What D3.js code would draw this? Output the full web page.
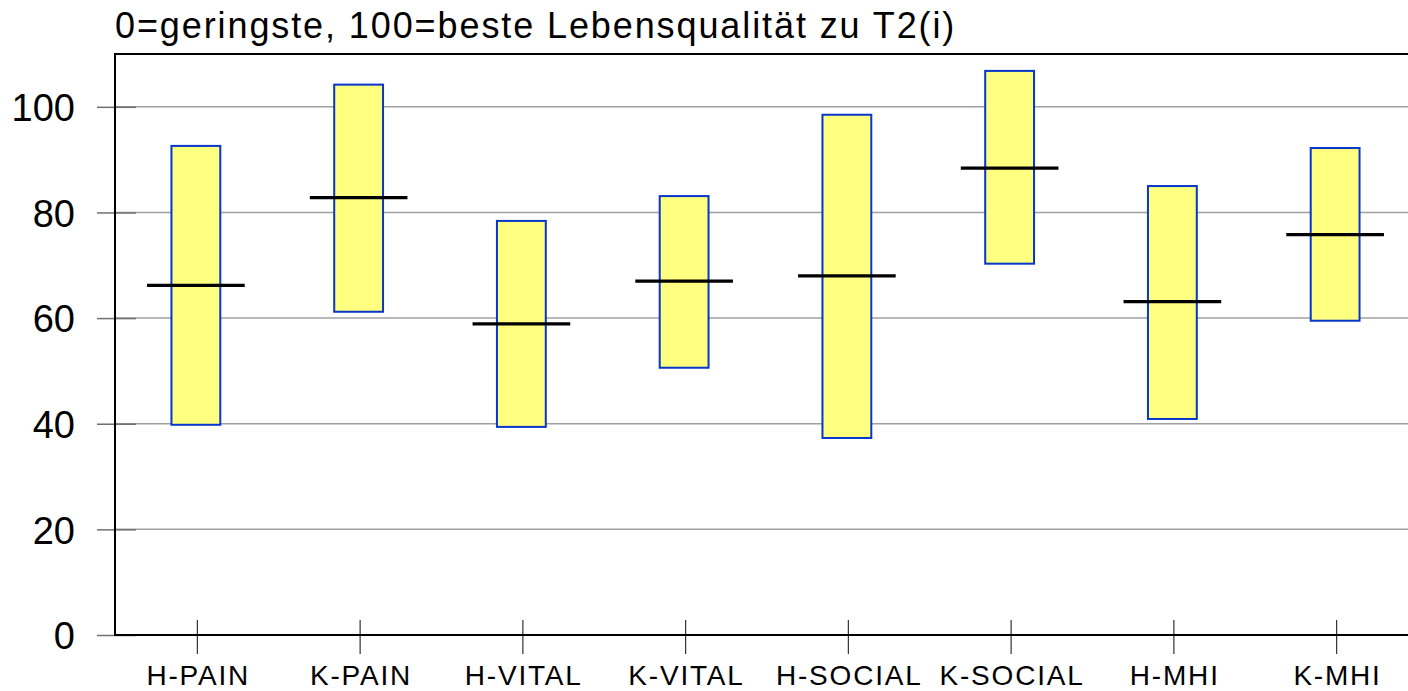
<!DOCTYPE html>
<html>
<head>
<meta charset="utf-8">
<script src="https://cdn.jsdelivr.net/npm/d3@7"></script>
<style>
  body { margin: 0; background: #fff; }
  svg text { font-family: "Liberation Sans", Arial, sans-serif; fill: #000; }
</style>
</head>
<body>
<div id="chart"></div>
<script>
// data
const categories = ['H-PAIN', 'K-PAIN', 'H-VITAL', 'K-VITAL', 'H-SOCIAL', 'K-SOCIAL', 'H-MHI', 'K-MHI'];
const lowValues  = [39.8, 61.2, 39.4, 50.6, 37.3, 70.3, 40.9, 59.5];
const highValues = [92.6, 104.2, 78.4, 83.1, 98.5, 106.8, 85.0, 92.2];
const meanValues = [66.2, 82.8, 58.9, 67.0, 68.0, 88.4, 63.1, 75.8];
const yTicks = [0, 20, 40, 60, 80, 100];
const titleText = '0=geringste, 100=beste Lebensqualität zu T2(i)';

const svgW = 1408, svgH = 691;
const plotLeft = 115, plotTop = 54, plotBottom = 635, plotRight = 1418;

const data = categories.map((c, i) => ({ cat: c, low: lowValues[i], high: highValues[i], mean: meanValues[i] }));

const svg = d3.select('#chart').append('svg')
  .attr('width', svgW)
  .attr('height', svgH);

const x = d3.scaleBand().domain(categories).range([plotLeft + 1, plotRight]).padding(0);
const y = d3.scaleLinear().domain([0, 110]).range([plotBottom, plotTop]);

// grid lines
svg.append('g')
  .attr('class', 'grid')
  .selectAll('line')
  .data(yTicks.filter(d => d > 0))
  .enter().append('line')
  .attr('x1', plotLeft).attr('x2', svgW)
  .attr('y1', d => y(d)).attr('y2', d => y(d))
  .style('stroke', '#a0a0a0')
  .style('stroke-width', 1.5);

// y axis
const yAxis = svg.append('g')
  .attr('transform', 'translate(' + plotLeft + ',0)')
  .call(d3.axisLeft(y).tickValues(yTicks).tickSize(18).tickPadding(22));
yAxis.select('.domain').remove();
yAxis.selectAll('.tick line').style('stroke', '#707070').style('stroke-width', 1.5);
yAxis.selectAll('.tick').append('line')
  .attr('x1', 0).attr('x2', 21)
  .style('stroke', '#707070').style('stroke-width', 1.5);
yAxis.selectAll('.tick text')
  .style('font-size', '38px')
  .style('font-family', '"Liberation Sans", Arial, sans-serif')
  .attr('dy', '0.36em');

// boxes
const boxW = x.bandwidth() * 0.3;
svg.append('g').selectAll('rect')
  .data(data)
  .enter().append('rect')
  .attr('x', d => x(d.cat) + x.bandwidth() / 2 - boxW / 2 - 1.5)
  .attr('y', d => y(d.high))
  .attr('width', boxW)
  .attr('height', d => y(d.low) - y(d.high))
  .style('fill', '#ffff80')
  .style('stroke', '#0636cc')
  .style('stroke-width', 2);

// mean lines
const meanW = x.bandwidth() * 0.6;
svg.append('g').selectAll('line')
  .data(data)
  .enter().append('line')
  .attr('x1', d => x(d.cat) + x.bandwidth() / 2 - meanW / 2 - 1.5)
  .attr('x2', d => x(d.cat) + x.bandwidth() / 2 + meanW / 2 - 1.5)
  .attr('y1', d => y(d.mean))
  .attr('y2', d => y(d.mean))
  .style('stroke', '#000')
  .style('stroke-width', 3.2);

// x axis
const xAxis = svg.append('g')
  .attr('transform', 'translate(0,' + plotBottom + ')')
  .call(d3.axisBottom(x).tickSize(19).tickPadding(11));
xAxis.select('.domain').remove();
xAxis.selectAll('.tick line')
  .attr('y1', -15)
  .style('stroke', '#333').style('stroke-width', 1.2);
xAxis.selectAll('.tick text')
  .style('font-size', '28px')
  .style('letter-spacing', '1.8px')
  .style('font-family', '"Liberation Sans", Arial, sans-serif')
  .attr('dx', '0.9px');

// frame: left, top and bottom
svg.append('line').attr('x1', plotLeft).attr('x2', plotLeft).attr('y1', plotTop).attr('y2', plotBottom)
  .style('stroke', '#000').style('stroke-width', 2);
svg.append('line').attr('x1', plotLeft - 1).attr('x2', svgW).attr('y1', plotTop).attr('y2', plotTop)
  .style('stroke', '#000').style('stroke-width', 2);
svg.append('line').attr('x1', plotLeft - 1).attr('x2', svgW).attr('y1', plotBottom).attr('y2', plotBottom)
  .style('stroke', '#000').style('stroke-width', 2);

// title
svg.append('text')
  .attr('x', 115)
  .attr('y', 38)
  .style('font-size', '36px')
  .style('letter-spacing', '1.9px')
  .text(titleText);
</script>
</body>
</html>
